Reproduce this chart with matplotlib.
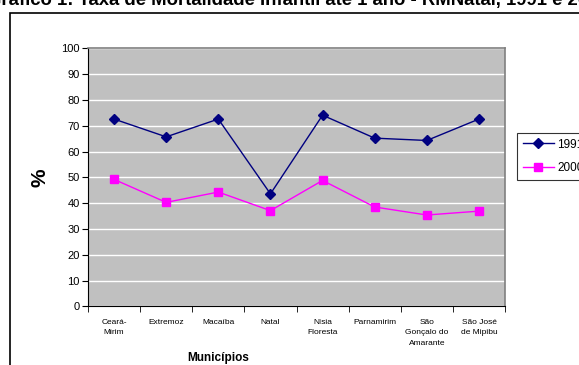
import matplotlib
matplotlib.use("Agg")
import matplotlib.pyplot as plt
from matplotlib.patches import Rectangle
import numpy as np

plt.rcParams['font.family'] = ['Liberation Sans', 'DejaVu Sans']

categories = ["Ceará-\nMirim", "Extremoz", "Macaíba", "Natal", "Nísia\nFloresta",
              "Parnamirim", "São\nGonçalo do\nAmarante", "São José\nde Mipibu"]
values_1991 = [72.6, 65.7, 72.6, 43.6, 74.1, 65.2, 64.3, 72.6]
values_2000 = [49.2, 40.3, 44.3, 37.1, 48.8, 38.5, 35.4, 36.9]
yticks = [0, 10, 20, 30, 40, 50, 60, 70, 80, 90, 100]
title = "Gráfico 1: Taxa de Mortalidade Infantil até 1 ano - RMNatal, 1991 e 2000"

W, H = 579, 365
fig = plt.figure(figsize=(W / 100, H / 100), dpi=100)
ax = fig.add_axes([88 / W, 1 - 306.3 / H, (505 - 88) / W, (306.3 - 48.4) / H])
ax.set_facecolor("#C0C0C0")

x = np.arange(len(categories))
ax.plot(x, values_1991, color="#000080", marker="D", markersize=5, lw=1, label="1991")
ax.plot(x, values_2000, color="#FF00FF", marker="s", markersize=5.5, lw=1, label="2000")

ax.set_xlim(-0.5, len(categories) - 0.5)
ax.set_ylim(0, 100)
ax.set_yticks(yticks)
ax.set_yticklabels([str(v) for v in yticks], fontsize=8)
ax.yaxis.grid(True, color="white", lw=1)
ax.set_axisbelow(True)

ax.set_xticks(x)
ax.set_xticklabels(categories, fontsize=6, linespacing=1.7, va="top")
ax.tick_params(axis="x", length=0, pad=9)
ax.set_xticks(np.arange(-0.5, len(categories)), minor=True)
ax.tick_params(axis="x", which="minor", length=4, direction="out", color="black")
ax.tick_params(axis="y", length=4, direction="out", color="black", pad=2)

for s in ["top", "right"]:
    ax.spines[s].set_color("#808080")
    ax.spines[s].set_linewidth(1.2)
ax.spines["left"].set_color("black")
ax.spines["bottom"].set_color("black")

fig.text(40 / W, 1 - 178 / H, "%", rotation=90, fontsize=15, fontweight="bold",
         ha="center", va="center")
fig.text(218 / W, 1 - 358 / H, "Municípios", fontsize=8.5, fontweight="bold",
         ha="center", va="center")
fig.text(-13 / W, 1 - 5 / H, title, fontsize=13.3, fontweight="bold",
         ha="left", va="baseline")

# outer chart border
fig.patches.append(Rectangle((10 / W, -0.2), 1.2, 1.2 - 12.5 / H, transform=fig.transFigure,
                             fill=False, edgecolor="black", lw=1.2, figure=fig))

leg = fig.legend(loc="upper left", bbox_to_anchor=(517 / W, 1 - 132.7 / H), fontsize=8.5,
                 frameon=True, fancybox=False, edgecolor="black", handlelength=2.6,
                 borderpad=0.5, labelspacing=1.0, handletextpad=0.3, borderaxespad=0)
leg.get_frame().set_linewidth(0.8)

fig.savefig("out.png", dpi=100)
